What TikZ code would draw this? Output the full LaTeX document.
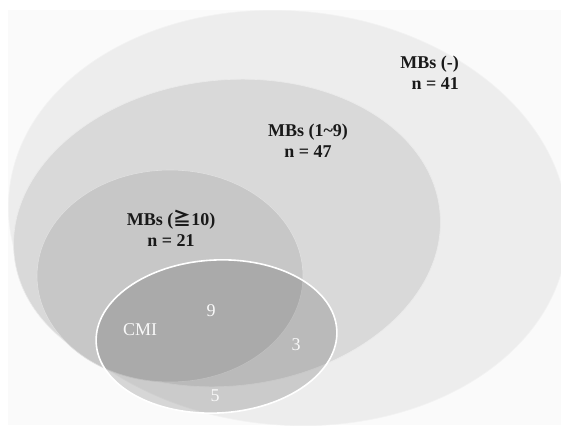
\documentclass[tikz,border=0pt]{standalone}
\usepackage{fontspec}
\setmainfont{Liberation Serif}
\newfontfamily\cjkfont{Noto Sans CJK JP}
\begin{document}
\begin{tikzpicture}[x=1pt,y=-1pt,
  setbox/.style={line width=0.6pt},
  grouplabel/.style={font=\fontsize{18}{21}\selectfont\bfseries, text=black!90, align=center, inner sep=0pt},
  countlabel/.style={font=\fontsize{18}{21}\selectfont, text=white!95!gray, inner sep=0pt}]
\useasboundingbox (0,0) rectangle (561,425);
\fill[white] (0,0) rectangle (561,425);
\fill[black!2] (8,10) rectangle (561,425);
% MBs (-)
\fill[black!7, draw=black!5, setbox, rotate around={-5:(288,218)}] (288,218) ellipse [x radius=280, y radius=207];
% MBs (1~9)
\fill[black!15, draw=black!8, setbox, rotate around={6:(227,233)}] (227,233) ellipse [x radius=214, y radius=153];
% MBs (>=10)
\fill[black!22, draw=black!12, setbox] (170,276) ellipse [x radius=133, y radius=106];
% CMI
\fill[black, fill opacity=0.14, rotate around={3:(216.5,336.5)}] (216.5,336.5) ellipse [x radius=120.5, y radius=76.5];
\draw[white, line width=1.6pt, rotate around={3:(216.5,336.5)}] (216.5,336.5) ellipse [x radius=120.5, y radius=76.5];
% labels
\node[grouplabel, align=right, anchor=east] (neg) at (459,73) {MBs (-)\\n = 41};
\node[grouplabel] (low) at (308,141) {MBs (1\textasciitilde9)\\n = 47};
\node[grouplabel] (high) at (171,228) {MBs ({\cjkfont\bfseries ≧}10)\\n = 21};
\node[countlabel] (cmi) at (140,330) {CMI};
\node[countlabel] (nine) at (211,311) {9};
\node[countlabel] (three) at (296,345) {3};
\node[countlabel] (five) at (215,396) {5};
\end{tikzpicture}
\end{document}
